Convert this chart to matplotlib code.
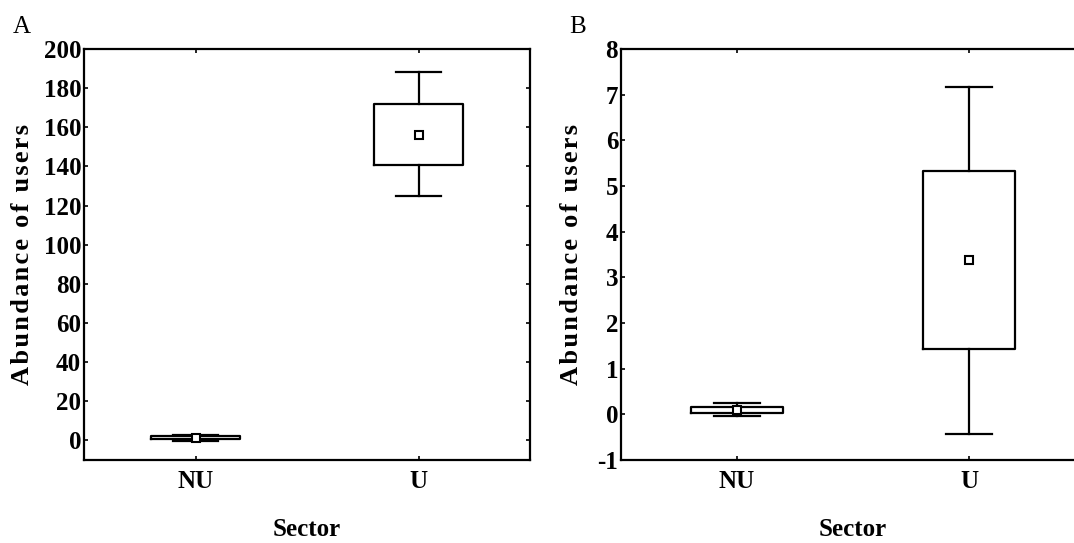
import matplotlib.pyplot as plt
import numpy as np

plt.rcParams['font.family'] = ['Liberation Serif', 'DejaVu Serif']
plt.rcParams['axes.unicode_minus'] = False

sectors = ['NU', 'U']

# panel A (mean, box = mean +/- SE, whiskers = mean +/- 1.96 SE)
a_mean = [1.3, 156.0]
a_box_lo = [0.5, 140.7]
a_box_hi = [2.1, 172.0]
a_whisk_lo = [-0.3, 125.0]
a_whisk_hi = [2.9, 188.0]

# panel B
b_mean = [0.10, 3.37]
b_box_lo = [0.03, 1.43]
b_box_hi = [0.17, 5.32]
b_whisk_lo = [-0.04, -0.42]
b_whisk_hi = [0.24, 7.17]

ylabel_txt = 'Abundance of users'


def make_stats(mean, lo, hi, wlo, whi):
    stats = []
    for i in range(len(mean)):
        stats.append({'med': mean[i], 'q1': lo[i], 'q3': hi[i],
                      'whislo': wlo[i], 'whishi': whi[i], 'mean': mean[i],
                      'fliers': [], 'label': sectors[i]})
    return stats


def draw_panel(ax, stats, yticks, ylim, ylab_x):
    lw = 1.6
    ax.bxp(stats, positions=[0, 1], widths=0.4, capwidths=0.2,
           showmeans=True, showfliers=False,
           boxprops=dict(color='black', linewidth=lw),
           whiskerprops=dict(color='black', linewidth=lw),
           capprops=dict(color='black', linewidth=lw),
           medianprops=dict(linewidth=0),
           meanprops=dict(marker='s', markerfacecolor='white',
                          markeredgecolor='black', markersize=6,
                          markeredgewidth=1.5))
    ax.set_xlim(-0.5, 1.5)
    ax.set_ylim(*ylim)
    ax.set_yticks(yticks)
    ax.set_xticks([0, 1])
    ax.set_xticklabels(sectors)
    ax.tick_params(direction='in', length=3, width=1.2, top=True, right=True,
                   labelsize=18)
    ax.tick_params(axis='x', pad=7)
    ax.tick_params(axis='y', pad=2)
    for lab in ax.get_xticklabels() + ax.get_yticklabels():
        lab.set_fontweight('bold')
    for sp in ax.spines.values():
        sp.set_linewidth(1.6)
    ax.set_xlabel('Sector', fontsize=18, fontweight='bold', labelpad=18)
    # letter-spaced label, as in the original
    spaced = '\u200a'.join(ylabel_txt)
    ax.set_ylabel(spaced, fontsize=19, fontweight='bold')
    ax.yaxis.set_label_coords(ylab_x, 0.5)


fig = plt.figure(figsize=(10.74, 5.43), dpi=100)
ax1 = fig.add_axes([84 / 1074, 83 / 543, 446 / 1074, 411 / 543])
ax2 = fig.add_axes([621 / 1074, 83 / 543, 464 / 1074, 411 / 543])

draw_panel(ax1, make_stats(a_mean, a_box_lo, a_box_hi, a_whisk_lo, a_whisk_hi),
           np.arange(0, 201, 20), (-10, 200), -0.112)
draw_panel(ax2, make_stats(b_mean, b_box_lo, b_box_hi, b_whisk_lo, b_whisk_hi),
           np.arange(-1, 9, 1), (-1, 8), -0.082)

fig.text(13 / 1074, 1 - 33 / 543, 'A', fontsize=18)
fig.text(569 / 1074, 1 - 33 / 543, 'B', fontsize=18)

fig.savefig('out.png', dpi=100)
